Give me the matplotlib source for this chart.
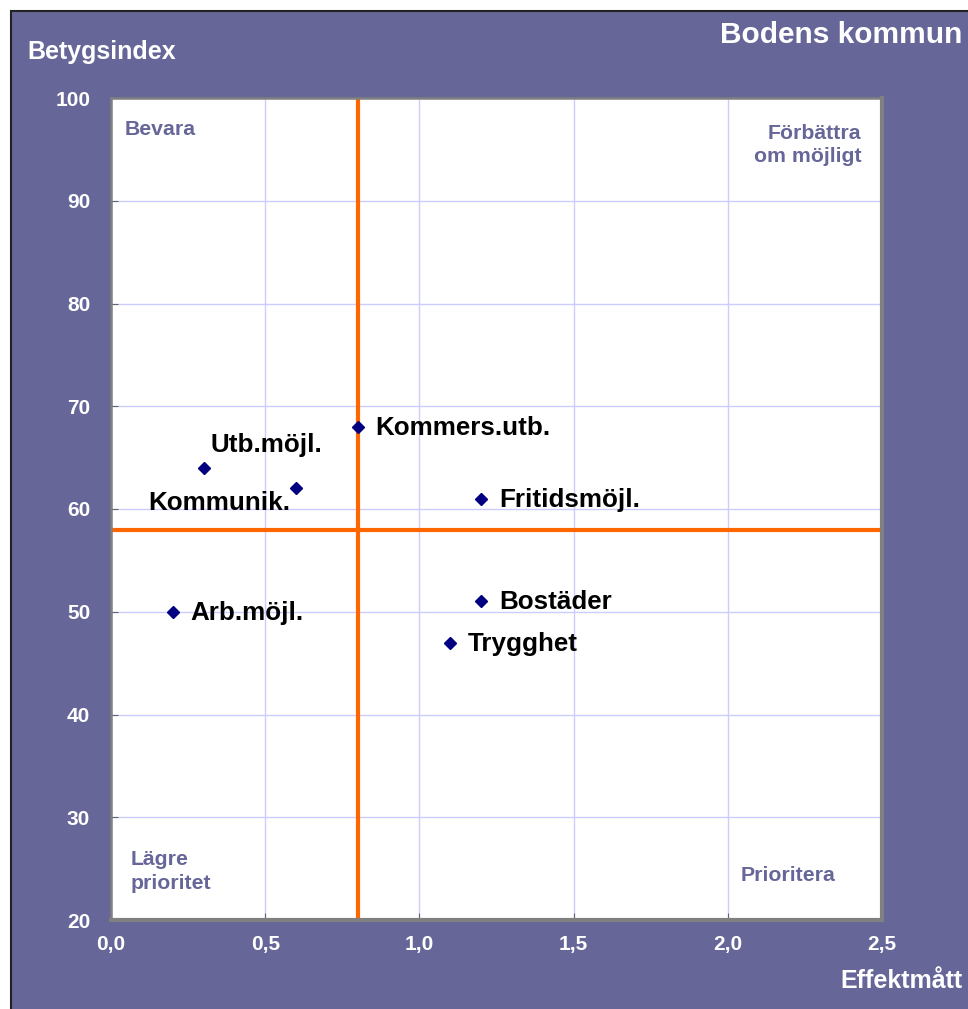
import matplotlib.pyplot as plt
from matplotlib.patches import Rectangle

plt.rcParams['font.family'] = ['Liberation Sans', 'DejaVu Sans']

# Data
labels = ['Utb.möjl.', 'Kommunik.', 'Kommers.utb.', 'Fritidsmöjl.', 'Bostäder', 'Trygghet', 'Arb.möjl.']
effekt = [0.3, 0.6, 0.8, 1.2, 1.2, 1.1, 0.2]
betyg = [64, 62, 68, 61, 51, 47, 50]
x_ticks = [0.0, 0.5, 1.0, 1.5, 2.0, 2.5]
x_ticklabels = ['0,0', '0,5', '1,0', '1,5', '2,0', '2,5']
y_ticks = [20, 30, 40, 50, 60, 70, 80, 90, 100]
x_split = 0.8
y_split = 58

purple = '#666699'
orange = '#ff6600'

fig = plt.figure(figsize=(9.68, 10.09), dpi=100)
fig.patch.set_facecolor('white')

# purple panel behind everything (runs off the right and bottom edges)
fig.patches.append(Rectangle((11 / 968, -0.05), 1.1, 1.05 - 11 / 1009,
                             transform=fig.transFigure, facecolor=purple,
                             edgecolor='#222222', linewidth=1.5, zorder=-10))

ax = fig.add_axes([111 / 968, 1 - 920 / 1009, 771 / 968, 822 / 1009])
ax.set_zorder(1)
ax.set_facecolor('white')
ax.set_xlim(0, 2.5)
ax.set_ylim(20, 100)
ax.set_xticks(x_ticks)
ax.set_xticklabels(x_ticklabels)
ax.set_yticks(y_ticks)
ax.grid(True, color='#ccccff', linewidth=1)
ax.set_axisbelow(True)
ax.tick_params(axis='both', colors='#666666', direction='in', length=5,
               labelcolor='white', labelsize=15)
ax.tick_params(axis='x', pad=11)
ax.tick_params(axis='y', pad=15)
for lbl in ax.get_xticklabels() + ax.get_yticklabels():
    lbl.set_fontweight('bold')

for side in ['left', 'top']:
    ax.spines[side].set_color('#808080')
    ax.spines[side].set_linewidth(1.8)
for side in ['right', 'bottom']:
    ax.spines[side].set_color('#808080')
    ax.spines[side].set_linewidth(3)

# quadrant lines
ax.axvline(x_split, color=orange, linewidth=3, zorder=2)
ax.axhline(y_split, color=orange, linewidth=3, zorder=2)

ax.plot(effekt, betyg, linestyle='none', marker='D', markersize=6.3,
        color='#000080', zorder=3)

offsets = {
    'Utb.möjl.': (7, 23, 'left'),
    'Kommunik.': (-6, -15, 'right'),
}
for name, xv, yv in zip(labels, effekt, betyg):
    dx, dy, ha = offsets.get(name, (18, -1, 'left'))
    ax.annotate(name, (xv, yv), xytext=(dx, dy), textcoords='offset pixels',
                ha=ha, va='center', fontsize=18.7, fontweight='bold', color='black', zorder=4)

# quadrant names
qkw = dict(transform=ax.transAxes, fontsize=15.3, fontweight='bold', color=purple)
ax.text(0.018, 0.962, 'Bevara', ha='left', va='center', **qkw)
ax.text(0.973, 0.943, 'Förbättra\nom möjligt', ha='right', va='center', linespacing=1.3, **qkw)
ax.text(0.026, 0.059, 'Lägre\nprioritet', ha='left', va='center', linespacing=1.3, **qkw)
ax.text(0.817, 0.054, 'Prioritera', ha='left', va='center', **qkw)

fig.text(962 / 968, 1 - 35 / 1009, 'Bodens kommun', ha='right', va='center',
         fontsize=21.5, fontweight='bold', color='white')
fig.text(27 / 968, 1 - 52 / 1009, 'Betygsindex', ha='left', va='center',
         fontsize=18, fontweight='bold', color='white')
fig.text(962 / 968, 1 - 981 / 1009, 'Effektmått', ha='right', va='center',
         fontsize=18, fontweight='bold', color='white')

fig.savefig('out.png', dpi=100)
